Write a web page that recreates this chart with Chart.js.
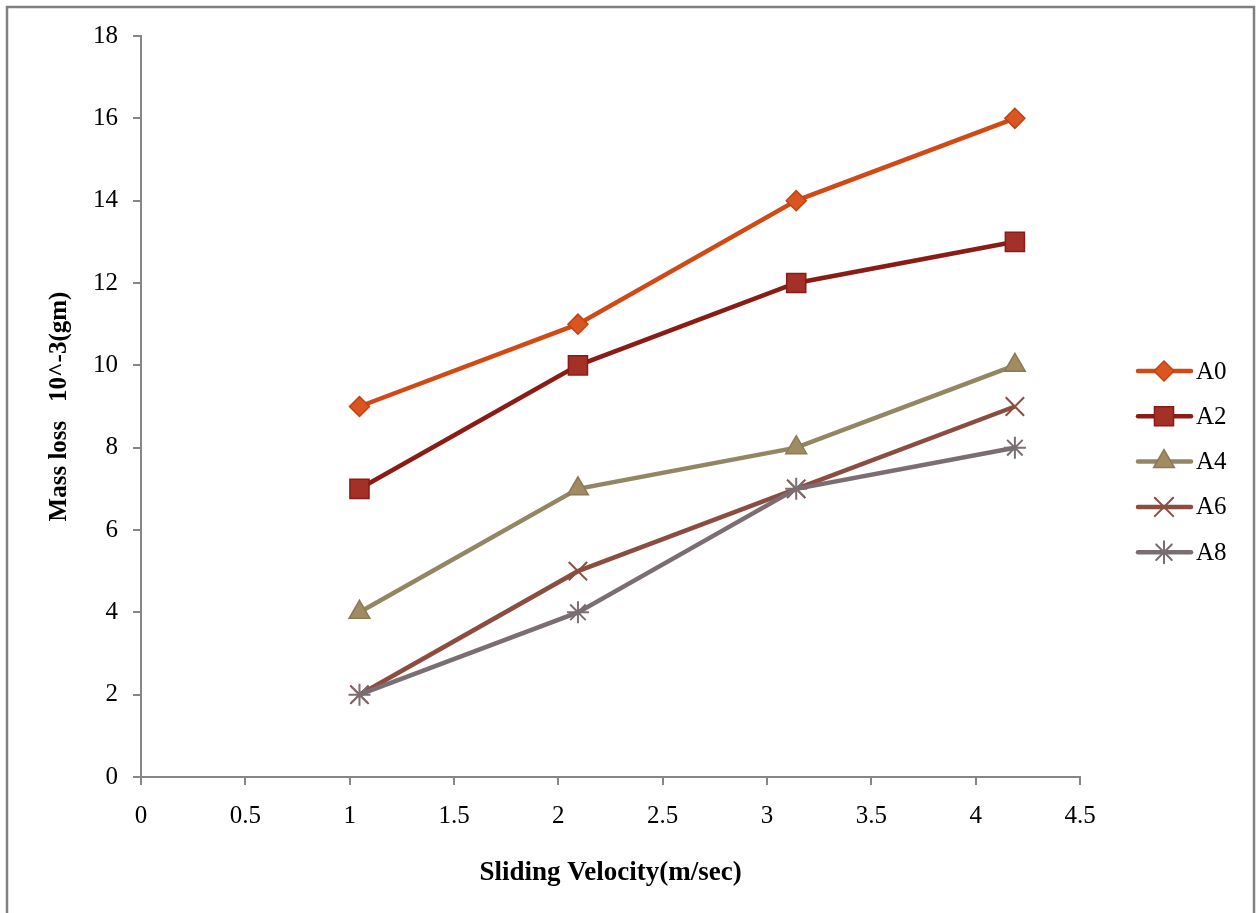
<!DOCTYPE html>
<html lang="en">
<head>
    <meta charset="UTF-8">
    <title>Mass loss vs Sliding Velocity</title>
    <script src="https://cdn.jsdelivr.net/npm/chart.js"></script>
    <style>
        html, body { margin: 0; padding: 0; background: #fff; }
        #wrap { width: 1259px; height: 913px; position: relative; }
    </style>
</head>
<body>
<div id="wrap"><canvas id="massChart" width="1259" height="913"></canvas></div>
<script>
    // Sliding velocity (m/sec) and mass loss (10^-3 gm) for each sample
    const velocity = [1.047, 2.094, 3.14, 4.188];
    const seriesNames = ['A0', 'A2', 'A4', 'A6', 'A8'];
    const a0 = [9, 11, 14, 16];
    const a2 = [7, 10, 12, 13];
    const a4 = [4, 7, 8, 10];
    const a6 = [2, 5, 7, 9];
    const a8 = [2, 4, 7, 8];

    const FONT = "'Liberation Serif', 'Times New Roman', serif";

    const styles = [
        { line: '#CF4A15', fill: '#D95521', border: '#C2420F', point: 'rectRot', r: 10 },
        { line: '#8A1C15', fill: '#A33127', border: '#8A1C15', point: 'rect', r: 13.5 },
        { line: '#938663', fill: '#A08B62', border: '#8C7A55', point: 'triangle', r: 12 },
        { line: '#8B4D3F', fill: '#8B4D3F', border: '#8B4D3F', point: 'crossRot', r: 13 },
        { line: '#7A6E72', fill: '#7A6E72', border: '#7A6E72', point: 'star', r: 11 }
    ];
    const values = [a0, a2, a4, a6, a8];

    const datasets = seriesNames.map((name, i) => ({
        label: name,
        data: velocity.map((v, j) => ({ x: v, y: values[i][j] })),
        showLine: true,
        borderColor: styles[i].line,
        borderWidth: 4.5,
        pointStyle: styles[i].point,
        pointRadius: styles[i].r,
        pointHoverRadius: styles[i].r,
        pointBackgroundColor: styles[i].fill,
        pointBorderColor: styles[i].border,
        pointBorderWidth: (i >= 3) ? 2 : 1.5,
        order: seriesNames.length - i
    }));

    // outer frame around the whole chart
    const framePlugin = {
        id: 'frame',
        beforeDraw(chart) {
            const ctx = chart.ctx;
            ctx.save();
            ctx.fillStyle = '#fff';
            ctx.fillRect(0, 0, chart.width, chart.height);
            ctx.strokeStyle = '#808080';
            ctx.lineWidth = 2.5;
            ctx.strokeRect(7, 7, 1247, 920);
            ctx.restore();
        }
    };

    // legend to the right: line segment with marker, then series name
    const sideLegend = {
        id: 'sideLegend',
        afterDraw(chart) {
            const ctx = chart.ctx;
            ctx.save();
            chart.data.datasets.forEach((ds, i) => {
                const y = 371 + i * 45.3;
                ctx.strokeStyle = ds.borderColor;
                ctx.lineWidth = 4.5;
                ctx.lineCap = 'round';
                ctx.beginPath();
                ctx.moveTo(1138, y);
                ctx.lineTo(1191, y);
                ctx.stroke();
                ctx.fillStyle = ds.pointBackgroundColor;
                ctx.strokeStyle = ds.pointBorderColor;
                ctx.lineWidth = ds.pointBorderWidth;
                Chart.helpers.drawPoint(ctx, {
                    pointStyle: ds.pointStyle,
                    radius: ds.pointRadius,
                    rotation: 0,
                    borderWidth: ds.pointBorderWidth
                }, 1164, y);
                ctx.fillStyle = '#000';
                ctx.font = '25px ' + FONT;
                ctx.textBaseline = 'middle';
                ctx.textAlign = 'left';
                ctx.fillText(ds.label, 1196, y + 1);
            });
            ctx.restore();
        }
    };

    const ctx = document.getElementById('massChart').getContext('2d');
    const myChart = new Chart(ctx, {
        type: 'scatter',
        data: { datasets: datasets },
        plugins: [framePlugin, sideLegend],
        options: {
            responsive: false,
            animation: false,
            layout: { padding: { left: 36, top: 36, right: 179, bottom: 24 } },
            plugins: {
                legend: { display: false },
                tooltip: { enabled: false }
            },
            scales: {
                x: {
                    type: 'linear',
                    min: 0,
                    max: 4.5,
                    afterFit(scale) { scale.height = 112; },
                    border: { color: '#868686', width: 2 },
                    grid: { drawOnChartArea: false, drawTicks: true, tickLength: 8, color: '#868686', lineWidth: 2 },
                    ticks: {
                        stepSize: 0.5,
                        color: '#000',
                        padding: 16,
                        font: { family: FONT, size: 25 },
                        callback: (v) => String(Math.round(v * 10) / 10)
                    },
                    title: {
                        display: true,
                        text: 'Sliding Velocity(m/sec)',
                        color: '#000',
                        padding: { top: 0, bottom: 0 },
                        font: { family: FONT, size: 27, weight: 'bold' }
                    }
                },
                y: {
                    type: 'linear',
                    min: 0,
                    max: 18,
                    afterFit(scale) { scale.width = 105; },
                    border: { color: '#868686', width: 2 },
                    grid: { drawOnChartArea: false, drawTicks: true, tickLength: 8, color: '#868686', lineWidth: 2 },
                    ticks: { stepSize: 2, color: '#000', padding: 15, font: { family: FONT, size: 25 } },
                    title: {
                        display: true,
                        text: 'Mass loss   10^-3(gm)',
                        color: '#000',
                        padding: { top: 9, bottom: 0 },
                        font: { family: FONT, size: 25, weight: 'bold' }
                    }
                }
            }
        }
    });
</script>
</body>
</html>
